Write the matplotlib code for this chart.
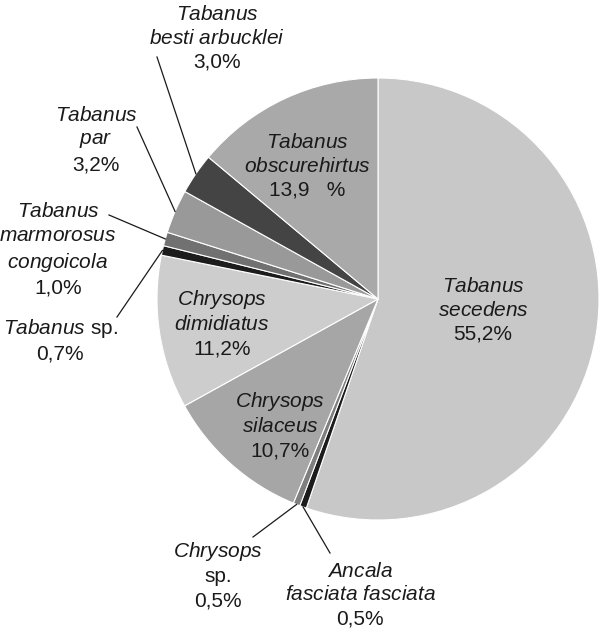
import matplotlib
matplotlib.use("Agg")
import matplotlib.pyplot as plt
import numpy as np

plt.rcParams['font.family'] = ['Liberation Sans', 'DejaVu Sans']
plt.rcParams['mathtext.fontset'] = 'custom'
plt.rcParams['mathtext.it'] = 'Liberation Sans:italic'
plt.rcParams['mathtext.rm'] = 'Liberation Sans'

#%% Daten (im Uhrzeigersinn ab 12 Uhr)

arten = ['Tabanus secedens', 'Ancala fasciata fasciata', 'Chrysops sp.',
         'Chrysops silaceus', 'Chrysops dimidiatus', 'Tabanus sp.',
         'Tabanus marmorosus congoicola', 'Tabanus par',
         'Tabanus besti arbucklei', 'Tabanus obscurehirtus']
anteil = [55.2, 0.5, 0.5, 10.7, 11.2, 0.7, 1.0, 3.2, 3.0, 13.9]

beschriftung = [
    r'$\mathit{Tabanus}$' + '\n' + r'$\mathit{secedens}$' + '\n55,2%',
    r'$\mathit{Ancala}$' + '\n' + r'$\mathit{fasciata\ fasciata}$' + '\n0,5%',
    r'$\mathit{Chrysops}$' + '\nsp.\n0,5%',
    r'$\mathit{Chrysops}$' + '\n' + r'$\mathit{silaceus}$' + '\n10,7%',
    r'$\mathit{Chrysops}$' + '\n' + r'$\mathit{dimidiatus}$' + '\n11,2%',
    r'$\mathit{Tabanus}$' + ' sp.\n0,7%',
    r'$\mathit{Tabanus}$' + '\n' + r'$\mathit{marmorosus}$' + '\n' + r'$\mathit{congoicola}$' + '\n1,0%',
    r'$\mathit{Tabanus}$' + '\n' + r'$\mathit{par}$' + '\n3,2%',
    r'$\mathit{Tabanus}$' + '\n' + r'$\mathit{besti\ arbucklei}$' + '\n3,0%',
    r'$\mathit{Tabanus}$' + '\n' + r'$\mathit{obscurehirtus}$' + '\n13,9   %',
]

farben = ['#c8c8c8', '#1c1c1c', '#7f7f7f', '#a6a6a6', '#cdcdcd',
          '#1c1c1c', '#717171', '#999999', '#444444', '#a9a9a9']

# Textpositionen (Pixel) und Endpunkte der Hinweislinien
text_pos = [(483, 310), (360, 595), (218, 575), (280, 425), (222, 323),
            (60, 340), (58, 250), (96, 140), (217, 38), (307, 166)]
linie_end = [None, (330, 553), (253, 537), None, None,
             (117, 317), (109, 215), (137, 127), (157, 57), None]

#%% Plot

cx, cy, r = 378, 299, 221

fig = plt.figure(figsize=(6, 6.33), dpi=100)
ax = fig.add_axes([0, 0, 1, 1])

wedges, _ = ax.pie(anteil, colors=farben, startangle=270, counterclock=True,
                   center=(cx, cy), radius=r,
                   wedgeprops=dict(edgecolor='white', linewidth=0.8))

ax.set_xlim(0, 600)
ax.set_ylim(633, 0)
ax.set_aspect('equal')
ax.axis('off')

for w, txt, pos, end in zip(wedges, beschriftung, text_pos, linie_end):
    ax.text(pos[0], pos[1], txt, ha='center', va='center', fontsize=15,
            color='#1a1a1a', linespacing=1.33)
    if end is not None:
        th = np.deg2rad((w.theta1 + w.theta2) / 2)
        px = cx + r * np.cos(th)
        py = cy + r * np.sin(th)
        ax.plot([end[0], px], [end[1], py], color='#1a1a1a', lw=0.9)

plt.savefig('out.png', dpi=100)
